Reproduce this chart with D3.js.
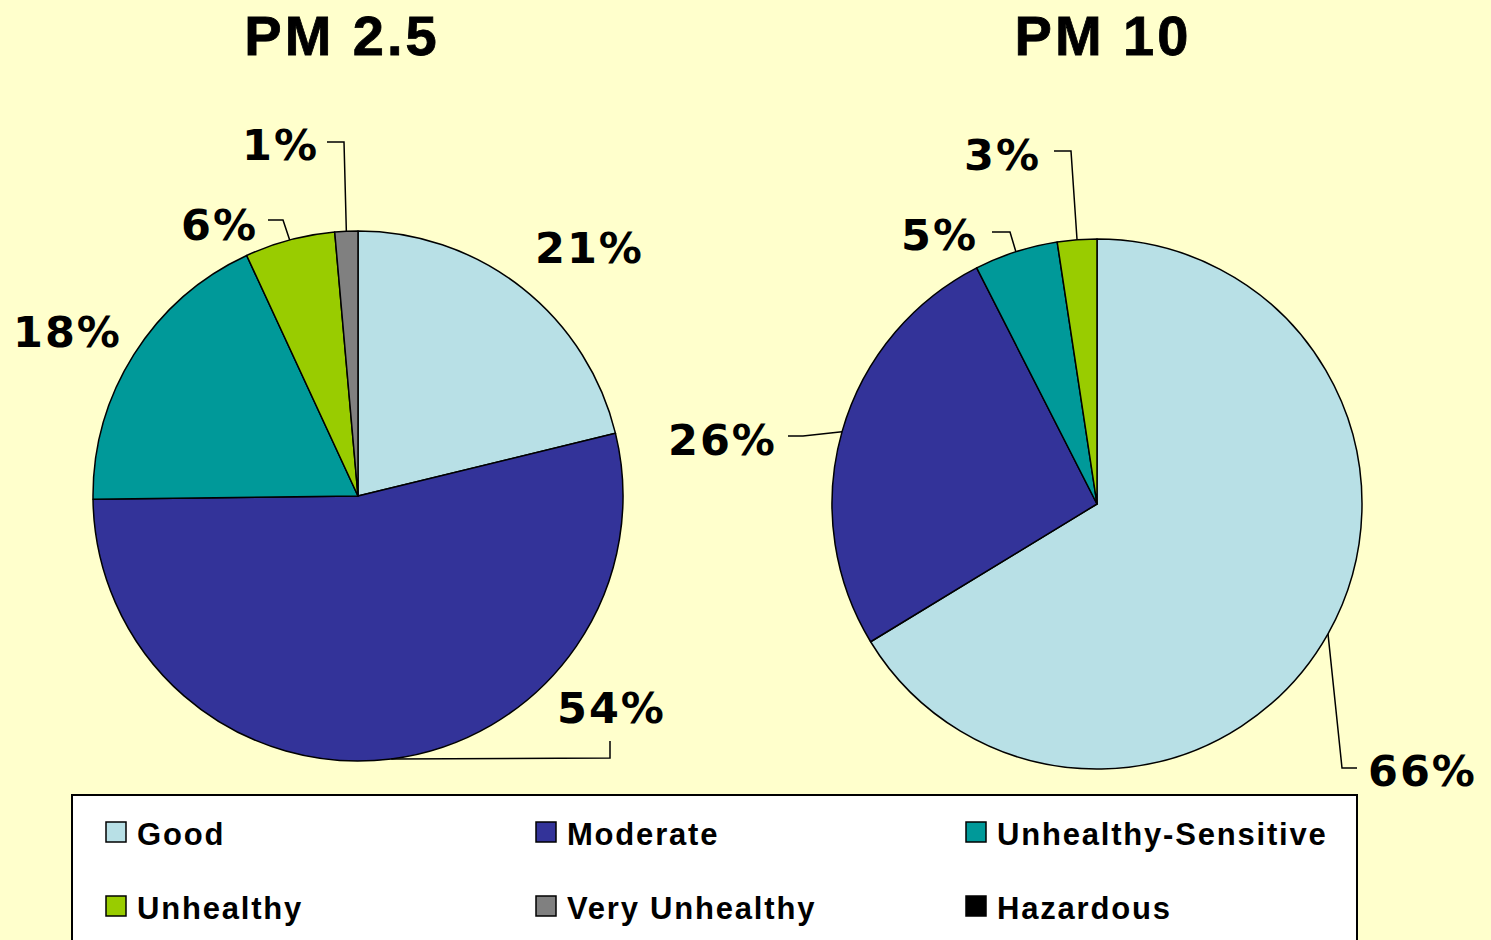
<!DOCTYPE html>
<html>
<head>
<meta charset="utf-8">
<script src="https://cdn.jsdelivr.net/npm/d3@7"></script>
<style>
  html, body { margin: 0; padding: 0; background: #FFFFCC; overflow: hidden; }
  svg { display: block; }
</style>
</head>
<body>
<svg id="chart" width="1491" height="940"></svg>
<script>
// ---- Data ----
const categories = ["Good", "Moderate", "Unhealthy-Sensitive", "Unhealthy", "Very Unhealthy", "Hazardous"];
const colors = ["#B8E0E6", "#333399", "#009999", "#99CC00", "#808080", "#000000"];
const pm25Values = [21.2, 53.6, 18.3, 5.5, 1.4, 0];
const pm10Values = [66.3, 26.2, 5.1, 2.4, 0, 0];
const pm25Labels = ["21%", "54%", "18%", "6%", "1%", ""];
const pm10Labels = ["66%", "26%", "5%", "3%", "", ""];
const titles = ["PM 2.5", "PM 10"];

// ---- Layout (label placement only) ----
const W = 1491, H = 940;
const radius = 265;
const pies = [
  { title: titles[0], values: pm25Values, labels: pm25Labels, cx: 358, cy: 496, titleX: 342,
    place: [
      { x: 535, y: 263 },
      { x: 557, y: 723, elbow: [610, 758], end: [610, 741] },
      { x: 13, y: 347 },
      { x: 181, y: 240, elbow: [283, 220], end: [268, 220] },
      { x: 242, y: 160, elbow: [344, 142], end: [327, 142] },
      null
    ] },
  { title: titles[1], values: pm10Values, labels: pm10Labels, cx: 1097, cy: 504, titleX: 1103,
    place: [
      { x: 1368, y: 786, elbow: [1342, 768], end: [1357, 768] },
      { x: 668, y: 455, elbow: [803, 436], end: [788, 436] },
      { x: 901, y: 250, elbow: [1010, 232], end: [992, 232] },
      { x: 964, y: 170, elbow: [1071, 151], end: [1054, 151] },
      null, null
    ] }
];

const svg = d3.select("#chart");
svg.append("rect").attr("width", W).attr("height", H).attr("fill", "#FFFFCC");

const color = d3.scaleOrdinal().domain(categories).range(colors);
const pieGen = d3.pie().sort(null).value(d => d.value).startAngle(0).endAngle(2 * Math.PI);
const arcGen = d3.arc().innerRadius(0).outerRadius(radius);

pies.forEach(p => {
  const data = categories.map((c, i) => ({ cat: c, value: p.values[i], label: p.labels[i], place: p.place[i] }));
  const arcs = pieGen(data);

  svg.append("text")
    .attr("x", p.titleX).attr("y", 55)
    .attr("text-anchor", "middle")
    .attr("font-family", "'Liberation Sans', Arial, sans-serif")
    .attr("font-weight", "bold")
    .attr("font-size", 56)
    .attr("letter-spacing", 3)
    .attr("stroke", "#000").attr("stroke-width", 0.8)
    .attr("fill", "#000")
    .text(p.title);

  const g = svg.append("g").attr("transform", `translate(${p.cx},${p.cy})`);
  g.selectAll("path.slice")
    .data(arcs.filter(a => a.data.value > 0))
    .join("path")
    .attr("class", "slice")
    .attr("d", arcGen)
    .attr("fill", d => color(d.data.cat))
    .attr("stroke", "#000")
    .attr("stroke-width", 1.5)
    .attr("stroke-linejoin", "round");

  arcs.forEach(a => {
    if (!a.data.place || a.data.value <= 0) return;
    const pl = a.data.place;
    if (pl.elbow) {
      const mid = (a.startAngle + a.endAngle) / 2;
      const sx = p.cx + radius * Math.sin(mid);
      const sy = p.cy - radius * Math.cos(mid);
      const line = d3.line();
      svg.append("path")
        .attr("d", line([[sx, sy], pl.elbow, pl.end]))
        .attr("fill", "none")
        .attr("stroke", "#000")
        .attr("stroke-width", 1.5);
    }
    svg.append("text")
      .attr("x", pl.x).attr("y", pl.y)
      .attr("font-family", "'DejaVu Sans', Verdana, sans-serif")
      .attr("font-weight", "bold")
      .attr("font-size", 43)
      .attr("letter-spacing", 2)
      .attr("fill", "#000")
      .text(a.data.label);
  });
});

// ---- Legend ----
svg.append("rect")
  .attr("x", 72).attr("y", 795).attr("width", 1285).attr("height", 200)
  .attr("fill", "#FFFFFF").attr("stroke", "#000").attr("stroke-width", 2);

const colX = [106, 536, 966];
const rowY = [822, 896];
const legend = svg.append("g");
categories.forEach((c, i) => {
  const col = i % 3, row = Math.floor(i / 3);
  const x = colX[col], y = rowY[row];
  legend.append("rect")
    .attr("x", x).attr("y", y).attr("width", 20).attr("height", 20)
    .attr("fill", color(c)).attr("stroke", "#000").attr("stroke-width", 1.5);
  legend.append("text")
    .attr("x", x + 31).attr("y", y + 23)
    .attr("font-family", "'Liberation Sans', Arial, sans-serif")
    .attr("font-weight", "bold")
    .attr("font-size", 31)
    .attr("letter-spacing", 1.8)
    .attr("fill", "#000")
    .text(c);
});
</script>
</body>
</html>
